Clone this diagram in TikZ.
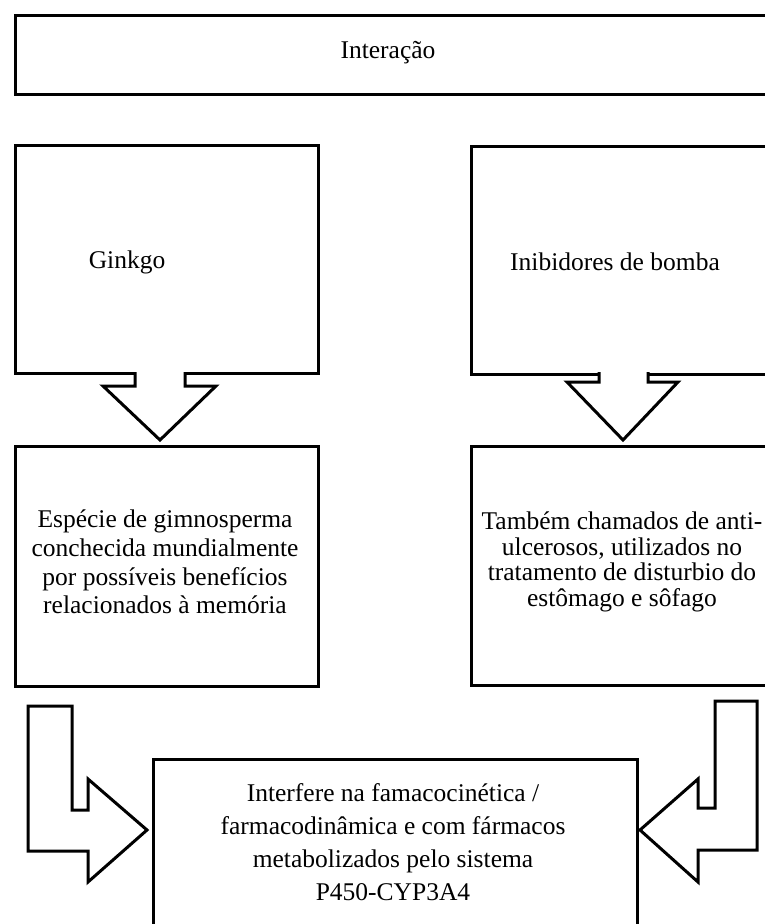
\documentclass[tikz,border=0pt]{standalone}
\usepackage{fontspec}
\setmainfont{Liberation Serif}
\begin{document}
\begin{tikzpicture}[x=1pt,y=-1pt,
  box/.style={draw=black,line width=3pt,inner sep=0pt,anchor=north west},
  blk/.style={draw=black,line width=3pt,fill=white,line join=miter},
  txt/.style={align=center,inner sep=0pt,font=\fontsize{25.5pt}{28.6pt}\selectfont}]
\useasboundingbox (0,0) rectangle (764,924);
\fill[white] (0,0) rectangle (764,924);
% boxes
\node[box,minimum width=770pt,minimum height=79pt] (top) at (13.5,14) {};
\node[box,minimum width=303.5pt,minimum height=228pt] (gk) at (13.5,144) {};
\node[box,minimum width=320pt,minimum height=228pt] (ib) at (470,144.5) {};
\node[box,minimum width=303.5pt,minimum height=240pt] (gkd) at (13.5,445) {};
\node[box,minimum width=320pt,minimum height=238.5pt] (ibd) at (470,445) {};
\node[box,minimum width=484pt,minimum height=200pt] (res) at (151.5,757.5) {};
% texts
\node[txt] (t0) at (388,53) {Interação};
\node[txt] (t1) at (127,262) {Ginkgo};
\node[txt] (t2) at (615,262) {Inibidores de bomba};
\node[txt] (t3) at (165,562) {Espécie de gimnosperma\\conchecida mundialmente\\por possíveis benefícios\\relacionados à memória};
\node[txt,font=\fontsize{25.5pt}{25.5pt}\selectfont] (t4) at (622,562) {Também chamados de anti-\\ulcerosos, utilizados no\\tratamento de disturbio do\\estômago e sôfago};
\node[txt,font=\fontsize{25.5pt}{33pt}\selectfont] (t5) at (393,842) {Interfere na famacocinética /\\farmacodinâmica e com fármacos\\metabolizados pelo sistema\\P450-CYP3A4};
% block arrows
\coordinate (a1) at (gk.south -| 160,0);
\coordinate (a2) at (ib.south -| 623,0);
\draw[blk] (135,372) -- (135,386) -- (103,386) -- (160,440) -- (216,386) -- (185,386) -- (185,372);
\draw[blk] (599,372) -- (599,382) -- (567,382) -- (623,440) -- (678,382) -- (648,382) -- (648,372);
\draw[blk] (28,706) -- (72,706) -- (72,810) -- (88,810) -- (88,779) -- (147,830) -- (88,882) -- (88,851) -- (28,851) -- cycle;
\draw[blk] (715,701) -- (757,701) -- (757,850) -- (698,850) -- (698,882) -- (640,830) -- (698,779) -- (698,808) -- (715,808) -- cycle;
\end{tikzpicture}
\end{document}
